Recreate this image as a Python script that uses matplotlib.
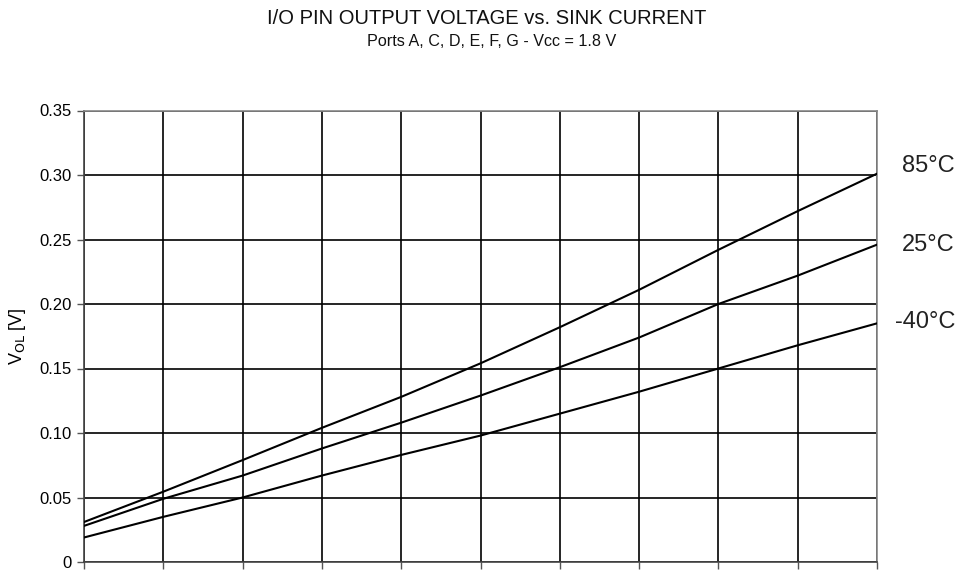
import matplotlib
matplotlib.use("Agg")
import matplotlib.pyplot as plt
import matplotlib.transforms as mtransforms

plt.rcParams['font.family'] = ['Liberation Sans', 'DejaVu Sans']

# Sink current grid positions (mA) and output low voltage (V) per temperature
sink_current = [0.0, 0.5, 1.0, 1.5, 2.0, 2.5, 3.0, 3.5, 4.0, 4.5, 5.0]
vol_85 = [0.031, 0.0545, 0.079, 0.104, 0.128, 0.154, 0.182, 0.211, 0.242, 0.272, 0.301]
vol_25 = [0.028, 0.049, 0.067, 0.088, 0.108, 0.129, 0.151, 0.174, 0.200, 0.222, 0.246]
vol_m40 = [0.019, 0.035, 0.050, 0.067, 0.083, 0.098, 0.115, 0.132, 0.150, 0.168, 0.185]
series_labels = ["85°C", "25°C", "-40°C"]
y_ticks = [0, 0.05, 0.10, 0.15, 0.20, 0.25, 0.30, 0.35]
y_tick_labels = ["0", "0.05", "0.10", "0.15", "0.20", "0.25", "0.30", "0.35"]

fig = plt.figure(figsize=(9.62, 5.74), dpi=100)
ax = fig.add_axes([84 / 962, 1 - 562 / 574, (877 - 84) / 962, (562 - 110.5) / 574])

ax.set_xlim(sink_current[0], sink_current[-1])
ax.set_ylim(0, 0.35)
ax.set_xticks(sink_current)
ax.set_xticklabels([])
ax.set_yticks(y_ticks)
ax.set_yticklabels(y_tick_labels, fontsize=12)
ax.tick_params(axis='both', direction='out', length=5, width=1.0, color='#555555')
ax.tick_params(axis='y', pad=4)

ax.grid(True, color='black', linewidth=1.2)
ax.set_axisbelow(True)
for side in ['top', 'right']:
    ax.spines[side].set_color('#888888')
    ax.spines[side].set_linewidth(1.2)
for side in ['left', 'bottom']:
    ax.spines[side].set_color('#444444')
    ax.spines[side].set_linewidth(1.2)

series = [vol_85, vol_25, vol_m40]
for vals in series:
    ax.plot(sink_current, vals, color='black', linewidth=1.5, zorder=3)

trans = mtransforms.blended_transform_factory(fig.transFigure, ax.transData)
label_y = [0.307, 0.246, 0.186]
for lbl, yv in zip(series_labels, label_y):
    ax.text(955 / 962, yv, lbl, transform=trans, ha='right', va='center',
            fontsize=17, color='#222222', clip_on=False)

ax.set_ylabel(r'V$_{\mathrm{OL}}$ [V]', fontsize=13, labelpad=8)

fig.text(487 / 962, 1 - 19 / 574, "I/O PIN OUTPUT VOLTAGE vs. SINK CURRENT",
         ha='center', va='center', fontsize=14.5, color='#111111')
fig.text(492 / 962, 1 - 42 / 574, "Ports A, C, D, E, F, G - Vcc = 1.8 V",
         ha='center', va='center', fontsize=11.6, color='#111111')

fig.savefig("out.png", dpi=100)
